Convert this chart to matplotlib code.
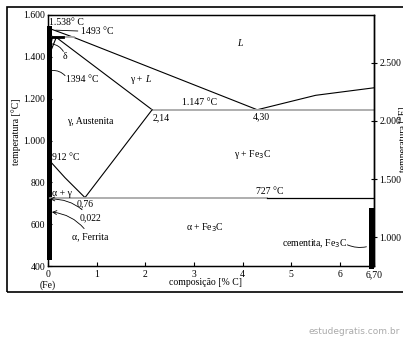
import matplotlib.pyplot as plt
from matplotlib.patches import Rectangle

plt.rcParams['font.family'] = ['Liberation Serif', 'DejaVu Serif']
plt.rcParams['font.size'] = 7

# phase boundaries, % C vs temperature in degrees C
liquidus_c = [0.0, 0.53, 4.30, 5.5, 6.7]
liquidus_t = [1538, 1493, 1147, 1216, 1252]
delta_sol_c = [0.0, 0.09]
delta_sol_t = [1538, 1493]
peritectic_c = [0.09, 0.53]
peritectic_t = [1493, 1493]
gamma_sol_c = [0.17, 2.14]
gamma_sol_t = [1493, 1147]
delta_gamma_c = [0.09, 0.0, 0.17]
delta_gamma_t = [1493, 1394, 1493]
eutectic_c = [2.14, 6.7]
eutectic_t = [1147, 1147]
acm_c = [2.14, 0.76]
acm_t = [1147, 727]
a3_c = [0.0, 0.35, 0.76]
a3_t = [912, 822, 727]
eutectoid_gray_c = [0.022, 4.5]
eutectoid_black_c = [4.5, 6.7]
eutectoid_t = 727

ferrite_bar = (0.0, 0.09, 430, 1548)
cementite_bar = (6.6, 6.7, 385, 677)

x_ticks = [0, 1, 2, 3, 4, 5, 6, 6.7]
x_labels = ['0\n(Fe)', '1', '2', '3', '4', '5', '6', '6,70']
yc_ticks = [400, 600, 800, 1000, 1200, 1400, 1600]
yc_labels = ['400', '600', '800', '1.000', '1.200', '1.400', '1.600']
yf_ticks = [1000, 1500, 2000, 2500]
yf_labels = ['1.000', '1.500', '2.000', '2.500']

fig = plt.figure(figsize=(4.03, 3.38), dpi=100)
ax = fig.add_axes([48 / 403, 1 - 266 / 338, 326 / 403, 251 / 338])

k = 'black'
g = '#a8a8a8'
ax.plot(liquidus_c, liquidus_t, color=k, lw=0.8)
ax.plot(delta_sol_c, delta_sol_t, color=k, lw=0.8)
ax.plot(peritectic_c, peritectic_t, color=g, lw=1.3)
ax.plot([0.09, 0.3], [1493, 1493], color=k, lw=2)
ax.plot(gamma_sol_c, gamma_sol_t, color=k, lw=0.8)
ax.plot(delta_gamma_c, delta_gamma_t, color=k, lw=0.8)
ax.plot(eutectic_c, eutectic_t, color=g, lw=1.3)
ax.plot(acm_c, acm_t, color=k, lw=0.8)
ax.plot(a3_c, a3_t, color=k, lw=0.8)
ax.plot(eutectoid_gray_c, [eutectoid_t] * 2, color=g, lw=1.3)
ax.plot(eutectoid_black_c, [eutectoid_t] * 2, color=k, lw=0.9)

x0, x1, t0, t1 = ferrite_bar
ax.fill_betweenx([t0, t1], x0 - 0.02, x1, color=k, lw=0, clip_on=False)
x0, x1, t0, t1 = cementite_bar
ax.fill_betweenx([t0, t1], x0, x1 + 0.01, color=k, lw=0, clip_on=False)

ax.set_xlim(0, 6.7)
ax.set_ylim(400, 1600)
ax.set_xticks(x_ticks)
ax.set_xticklabels(x_labels)
ax.set_yticks(yc_ticks)
ax.set_yticklabels(yc_labels)
ax.tick_params(direction='in', length=3, width=0.8, pad=2)
ax.tick_params(axis='x', pad=3)
for lab in ax.get_xticklabels():
    lab.set_verticalalignment('top')
for s in ax.spines.values():
    s.set_linewidth(1.0)

ax2 = ax.twinx()
ax2.set_ylim(400 * 1.8 + 32, 1600 * 1.8 + 32)
ax2.set_yticks(yf_ticks)
ax2.set_yticklabels(yf_labels)
ax2.tick_params(direction='inout', length=4, width=0.8, pad=2)
ax2.spines['right'].set_linewidth(1.0)

fig.text(16 / 403, 1 - 132 / 338, 'temperatura [°C]', rotation=90,
         ha='center', va='center')
fig.text(403 / 403, 1 - 139 / 338, 'temperatura [°F]', rotation=90,
         ha='center', va='center')
ax.text(3.23, 320, 'composição [% C]', ha='center', va='center')

ax.text(0.02, 1562, '1.538° C', ha='left', va='center')
ax.text(0.68, 1523, '1493 °C', ha='left', va='center')
ax.text(0.35, 1400, 'δ', ha='center', va='center')
ax.text(0.37, 1294, '1394 °C', ha='left', va='center')
ax.text(1.99, 1294, 'γ + ', ha='right', va='center')
ax.text(1.99, 1294, 'L', ha='left', va='center', style='italic')
ax.text(3.95, 1466, 'L', ha='center', va='center', style='italic')
ax.text(3.11, 1184, '1.147 °C', ha='center', va='center')
ax.text(2.33, 1108, '2,14', ha='center', va='center')
ax.text(4.38, 1112, '4,30', ha='center', va='center')
ax.text(0.86, 1093, 'γ, Austenita', ha='center', va='center')
ax.text(0.08, 921, '912 °C', ha='left', va='center')
ax.text(4.2, 931, 'γ + Fe$_3$C', ha='center', va='center')
ax.text(0.08, 749, 'α + γ', ha='left', va='center')
ax.text(0.76, 697, '0,76', ha='center', va='center')
ax.text(4.56, 754, '727 °C', ha='center', va='center')
ax.text(3.23, 582, 'α + Fe$_3$C', ha='center', va='center')
ax.text(5.47, 505, 'cementita, Fe$_3$C', ha='center', va='center')

arrow = dict(arrowstyle='->', color=k, lw=0.6, shrinkA=1, shrinkB=0,
             connectionstyle='arc3,rad=0.25')
ax.annotate('0,022', xy=(0.04, 720), xytext=(0.64, 630), ha='left',
            va='center', arrowprops=arrow)
ax.annotate('α, Ferrita', xy=(0.08, 658), xytext=(0.49, 539), ha='left',
            va='center', arrowprops=arrow)
plain = dict(arrowstyle='-', color=k, lw=0.6, shrinkA=1, shrinkB=0,
             connectionstyle='arc3,rad=0.25')
ax.annotate('', xy=(0.08, 1462), xytext=(0.33, 1420), arrowprops=plain)
ax.annotate('', xy=(0.08, 1335), xytext=(0.37, 1305), arrowprops=plain)
ax.annotate('', xy=(0.1, 1528), xytext=(0.67, 1523),
            arrowprops=dict(arrowstyle='-', color=k, lw=0.6))
ax.annotate('', xy=(6.6, 495), xytext=(6.1, 507),
            arrowprops=dict(arrowstyle='-', color=k, lw=0.6,
                            connectionstyle='arc3,rad=0.2'))

fig.patches.append(Rectangle((7 / 403, 1 - 292 / 338), 1.2, 285 / 338,
                             transform=fig.transFigure, fill=False,
                             edgecolor=k, lw=1.2))
fig.text(400 / 403, 1 - 332 / 338, 'estudegratis.com.br', ha='right',
         va='center', family='DejaVu Sans', fontsize=6.5, color='#aaaaaa')

fig.savefig('out.png', dpi=100)
